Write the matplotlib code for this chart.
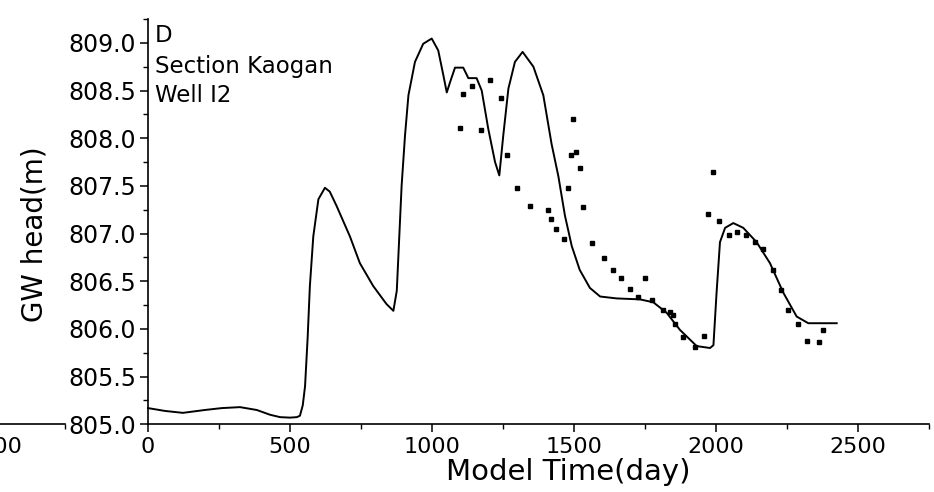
import matplotlib
matplotlib.use("Agg")
import matplotlib.pyplot as plt
from matplotlib.ticker import MultipleLocator

# simulated groundwater head, well I2
model_day = [0, 60, 123, 200, 260, 324, 383, 430, 465, 500, 524, 535, 545, 553,
             562, 570, 582, 600, 623, 640, 664, 711, 746, 793, 840, 864, 876,
             893, 905, 917, 940, 969, 999, 1022, 1040, 1052, 1065, 1081, 1110,
             1128, 1157, 1175, 1198, 1222, 1237, 1251, 1269, 1292, 1319, 1357,
             1392, 1421, 1445, 1468, 1492, 1520, 1556, 1592, 1650, 1732, 1779,
             1826, 1873, 1932, 1979, 1991, 2002, 2014, 2032, 2061, 2096, 2143,
             2190, 2237, 2284, 2325, 2425]
model_head = [805.17, 805.14, 805.12, 805.15, 805.17, 805.18, 805.15, 805.10,
              805.075, 805.07, 805.075, 805.09, 805.2, 805.40, 805.9, 806.45,
              806.97, 807.36, 807.48, 807.44, 807.29, 806.97, 806.69, 806.45,
              806.26, 806.19, 806.40, 807.50, 808.03, 808.45, 808.80, 808.99,
              809.045, 808.92, 808.66, 808.48, 808.60, 808.74, 808.74, 808.63,
              808.63, 808.50, 808.10, 807.75, 807.61, 808.03, 808.52, 808.80,
              808.905, 808.75, 808.45, 807.94, 807.60, 807.19, 806.87, 806.62,
              806.43, 806.34, 806.32, 806.31, 806.28, 806.17, 805.99, 805.82,
              805.80, 805.83, 806.38, 806.91, 807.06, 807.11, 807.06, 806.91,
              806.69, 806.38, 806.13, 806.06, 806.06]

# observed heads
obs_day = [1099, 1110, 1140, 1172, 1204, 1244, 1265, 1298, 1345, 1410, 1419,
           1437, 1465, 1480, 1488, 1498, 1507, 1521, 1532, 1562, 1604, 1636,
           1664, 1697, 1726, 1750, 1773, 1814, 1839, 1847, 1856, 1885, 1926,
           1957, 1973, 1988, 2011, 2047, 2075, 2106, 2137, 2166, 2200, 2228,
           2254, 2289, 2319, 2364, 2378]
obs_head = [808.11, 808.46, 808.55, 808.09, 808.61, 808.42, 807.82, 807.48,
            807.29, 807.25, 807.15, 807.05, 806.94, 807.48, 807.82, 808.20,
            807.86, 807.69, 807.28, 806.90, 806.74, 806.62, 806.53, 806.42,
            806.33, 806.53, 806.30, 806.20, 806.18, 806.15, 806.05, 805.92,
            805.81, 805.93, 807.20, 807.65, 807.13, 806.98, 807.02, 806.98,
            806.91, 806.84, 806.62, 806.41, 806.20, 806.05, 805.87, 805.86,
            805.99]

x_ticks = [0, 500, 1000, 1500, 2000, 2500]
y_ticks = [805.0, 805.5, 806.0, 806.5, 807.0, 807.5, 808.0, 808.5, 809.0]
panel_text = ["D", "Section Kaogan", "Well I2"]

plt.rcParams["font.family"] = ["DejaVu Sans"]
W, H = 934, 492
fig = plt.figure(figsize=(W / 100, H / 100), dpi=100)

ax_left, ax_bottom = 148 / W, (H - 424.3) / H
ax_w, ax_h = 781 / W, 405.3 / H


def style_axis(a):
    for side in ("top", "right"):
        a.spines[side].set_visible(False)
    for side in ("left", "bottom"):
        a.spines[side].set_linewidth(1.2)
    a.set_xlim(0, 2750)
    a.set_xticks(x_ticks)
    a.xaxis.set_minor_locator(MultipleLocator(250))
    a.tick_params(which="major", direction="out", length=5.5, width=1.1,
                  labelsize=16, pad=4)
    a.tick_params(which="minor", direction="out", length=3.5, width=1.0)


# right end of the neighbouring panel on the left
ax_prev = fig.add_axes([ax_left - ax_w - 83 / W, ax_bottom, ax_w, ax_h])
style_axis(ax_prev)
ax_prev.spines["left"].set_visible(False)
ax_prev.set_yticks([])
ax_prev.patch.set_visible(False)

ax = fig.add_axes([ax_left, ax_bottom, ax_w, ax_h])
ax.patch.set_visible(False)
style_axis(ax)
ax.set_ylim(805.0, 809.25)
ax.set_yticks(y_ticks)
ax.set_yticklabels([f"{v:.1f}" for v in y_ticks])
ax.yaxis.set_minor_locator(MultipleLocator(0.25))
ax.tick_params(axis="y", which="major", labelsize=17, pad=3)

ax.plot(model_day, model_head, color="black", lw=1.4, clip_on=False)
ax.plot(obs_day, obs_head, ls="none", marker="s", ms=3.3, color="black")

for i, line in enumerate(panel_text):
    ax.text(7 / 781, 1 - (17 + 30 * i) / 405.3, line, transform=ax.transAxes,
            fontsize=16.5, ha="left", va="center")

ax.set_xlabel("Model Time(day)", fontsize=21)
ax.set_ylabel("GW head(m)", fontsize=20)
ax.xaxis.set_label_coords(0.5378, -0.083)
ax.yaxis.set_label_coords(-0.128, 0.47)

fig.savefig("out.png", dpi=100)
